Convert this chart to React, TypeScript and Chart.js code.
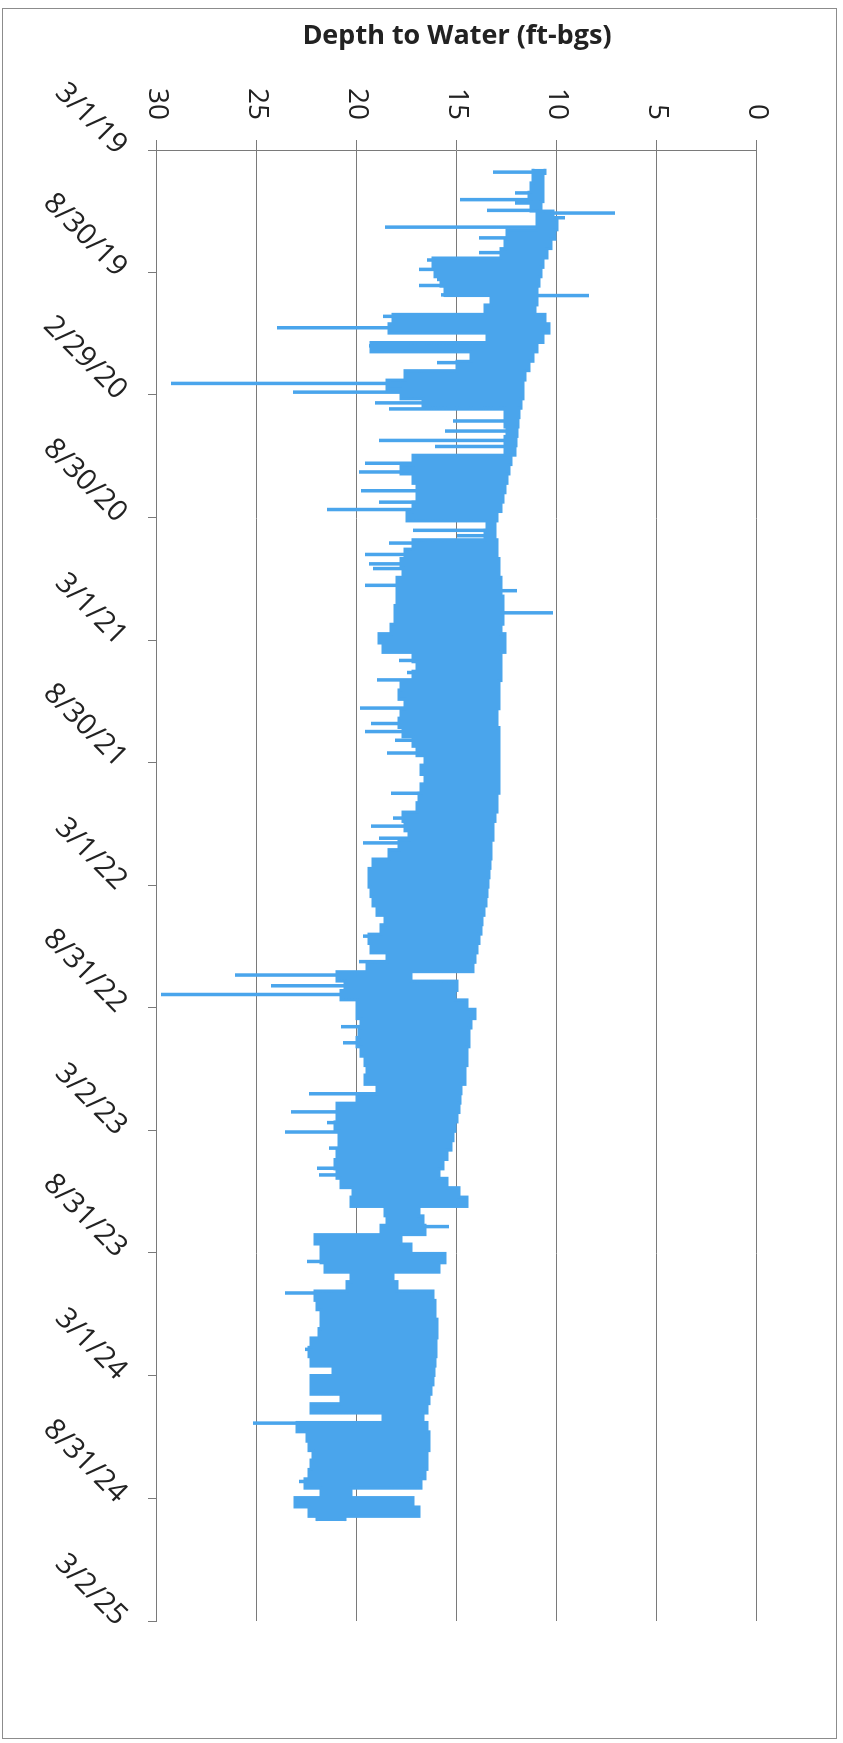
import React, { useEffect, useRef } from 'react';
import { Chart, registerables } from 'chart.js';

Chart.register(...registerables);

// ---------- data ----------
const dateTickLabels = [
  '3/1/19', '8/30/19', '2/29/20', '8/30/20', '3/1/21', '8/30/21', '3/1/22',
  '8/31/22', '3/2/23', '8/31/23', '3/1/24', '8/31/24', '3/2/25',
];

const depthMin = 0;
const depthMax = 30;
const depthMajorStep = 5;
const depthMinorStep = 1;

// dense record summarised as a band: one reading every two weeks
const sampleStart = '2019-03-29';
const sampleStepDays = 14;

// shallow edge of the band (ft-bgs)
const shallowEdge = [
  10.6, 10.7, 10.7, 10.7, 10.8, 10.2, 10.0, 10.1, 10.3, 10.5,
  10.7, 10.8, 10.9, 11.0, 11.0, 11.1, 10.6, 10.4, 10.7, 11.0,
  11.2, 11.4, 11.6, 11.7, 11.7, 11.8, 11.9, 11.95, 12.0, 12.05,
  12.1, 12.3, 12.4, 12.5, 12.6, 12.7, 12.8, 13.0, 13.1, 13.1,
  13.0, 13.0, 12.9, 12.9, 12.8, 12.8, 12.7, 12.7, 12.7, 12.8,
  12.6, 12.6, 12.8, 12.8, 12.8, 12.9, 12.9, 12.9, 13.0, 13.0,
  12.9, 12.9, 12.9, 12.9, 12.9, 12.9, 12.9, 13.0, 13.0, 13.1,
  13.2, 13.2, 13.3, 13.3, 13.35, 13.4, 13.45, 13.5, 13.55, 13.65,
  13.75, 13.8, 13.9, 14.0, 14.1, 14.2, 17.3, 15.0, 15.1, 14.5,
  14.1, 14.3, 14.4, 14.4, 14.5, 14.5, 14.6, 14.6, 14.8, 14.85,
  14.9, 15.0, 15.1, 15.2, 15.3, 15.5, 15.7, 15.9, 15.5, 14.9,
  14.5, 16.9, 16.7, 16.6, 17.8, 17.3, 15.6, 15.9, 18.2, 18.0,
  16.2, 16.1, 16.1, 16.0, 16.0, 16.05, 16.05, 16.1, 16.15, 16.2,
  16.3, 16.4, 16.5, 16.7, 16.5, 16.4, 16.4, 16.5, 16.5, 16.6,
  16.8, 20.3, 17.2, 16.9, 20.6,
];

// deep edge of the solid band (ft-bgs)
const deepEdge = [
  11.2, 11.2, 11.3, 11.4, 11.3, 11.0, 11.0, 12.5, 12.6, 12.8,
  16.2, 16.1, 15.8, 15.6, 13.3, 13.6, 18.2, 18.4, 13.5, 19.3,
  14.3, 15.0, 17.6, 18.5, 17.8, 16.7, 12.6, 12.6, 12.5, 12.6,
  12.6, 17.2, 17.8, 17.2, 17.0, 17.0, 17.2, 17.5, 13.5, 13.6,
  17.2, 17.6, 17.8, 17.7, 18.0, 18.0, 18.0, 18.1, 18.1, 18.3,
  18.9, 18.7, 17.2, 17.0, 17.2, 17.8, 17.9, 17.6, 17.8, 17.9,
  17.7, 17.2, 17.0, 16.6, 16.8, 16.6, 16.8, 16.9, 17.0, 17.7,
  17.6, 17.4, 17.9, 18.4, 19.2, 19.4, 19.4, 19.3, 19.2, 19.0,
  18.6, 18.8, 19.4, 19.3, 18.5, 19.5, 21.0, 20.6, 20.8, 20.0,
  20.0, 19.8, 19.9, 20.0, 19.8, 19.6, 19.5, 19.6, 19.0, 20.0,
  21.0, 21.0, 21.1, 20.9, 20.9, 21.0, 21.1, 21.0, 20.8, 20.2,
  20.3, 18.6, 18.5, 18.8, 22.1, 21.8, 21.8, 21.6, 20.3, 20.5,
  22.1, 22.0, 21.8, 21.8, 21.9, 22.3, 22.4, 22.3, 21.2, 22.3,
  22.3, 20.8, 22.3, 18.7, 23.0, 22.5, 22.4, 22.2, 22.3, 22.4,
  22.6, 21.8, 23.1, 22.4, 22.0,
];

// individual excursions (single readings)
const spikeDates = [
  '2019-04-03', '2019-05-04', '2019-05-14', '2019-05-19', '2019-05-30', '2019-06-03',
  '2019-06-10', '2019-06-24', '2019-07-10', '2019-08-01', '2019-08-12', '2019-08-26',
  '2019-09-10', '2019-09-19', '2019-10-03', '2019-10-04', '2019-11-04', '2019-11-21',
  '2019-12-18', '2020-01-12', '2020-02-12', '2020-02-25', '2020-03-12', '2020-03-21',
  '2020-04-08', '2020-04-23', '2020-05-07', '2020-05-16', '2020-06-10', '2020-06-23',
  '2020-07-21', '2020-08-07', '2020-08-18', '2020-09-18', '2020-09-26', '2020-10-07',
  '2020-10-24', '2020-11-07', '2020-11-14', '2020-12-09', '2020-12-17', '2021-01-19',
  '2021-03-31', '2021-04-18', '2021-04-29', '2021-06-10', '2021-07-03', '2021-07-15',
  '2021-07-28', '2021-08-16', '2021-10-15', '2021-11-21', '2021-12-03', '2021-12-21',
  '2021-12-28', '2022-05-16', '2022-06-23', '2022-07-13', '2022-07-29', '2022-08-11',
  '2022-09-28', '2022-10-22', '2023-01-06', '2023-02-02', '2023-02-18', '2023-03-04',
  '2023-03-28', '2023-04-27', '2023-05-07', '2023-07-23', '2023-09-13', '2023-10-30',
  '2024-01-22', '2024-05-11', '2024-08-06',
];
const spikeDepths = [
  13.2, 12.1, 14.85, 12.1, 13.5, 7.1,
  9.6, 18.6, 13.9, 13.9, 16.5, 16.9,
  16.0, 16.9, 15.8, 8.4, 18.7, 24.0,
  19.4, 16.0, 29.3, 23.2, 19.1, 18.4,
  15.2, 15.6, 18.9, 16.1, 19.6, 19.9,
  19.8, 18.9, 21.5, 17.2, 15.0, 18.4,
  19.6, 19.4, 19.2, 19.6, 12.0, 10.2,
  17.9, 17.5, 19.0, 19.85, 19.3, 19.6,
  18.1, 18.5, 18.3, 18.2, 19.3, 18.9,
  19.7, 19.7, 19.9, 26.1, 24.3, 29.8,
  20.8, 20.7, 22.4, 23.3, 21.5, 23.6,
  21.4, 22.0, 21.9, 15.4, 22.5, 23.6,
  22.6, 25.2, 22.9,
];

// ---------- helpers ----------
const DAY_MS = 86400000;
const ORIGIN = Date.UTC(2019, 2, 1);
const isoToDay = (s: string) => {
  const [y, m, d] = s.split('-').map(Number);
  return (Date.UTC(y, m - 1, d) - ORIGIN) / DAY_MS;
};
const mdyToDay = (s: string) => {
  const [m, d, y] = s.split('/').map(Number);
  return (Date.UTC(2000 + y, m - 1, d) - ORIGIN) / DAY_MS;
};

const tickDays = dateTickLabels.map(mdyToDay);
const startDay = isoToDay(sampleStart);
const sampleX = (i: number) => startDay + i * sampleStepDays;

const shallowPts = shallowEdge.map((v, i) => ({ x: sampleX(i), y: v }));
const deepPts = deepEdge.map((v, i) => ({ x: sampleX(i), y: v }));
const spikePts: { x: number; y: number | null }[] = [];
spikeDates.forEach((d, k) => {
  const x = isoToDay(d);
  const idx = Math.max(0, Math.min(shallowEdge.length - 1, Math.round((x - startDay) / sampleStepDays)));
  spikePts.push({ x, y: shallowEdge[idx] }, { x, y: spikeDepths[k] }, { x, y: null });
});

const BLUE = '#4AA5EC';
const GRID = '#7a7a7a';
const TEXT = '#222222';
const FONT = "'Open Sans', 'DejaVu Sans', sans-serif";

export default function App() {
  const ref = useRef<HTMLCanvasElement>(null);

  useEffect(() => {
    if (!ref.current) return;
    const chart = new Chart(ref.current, {
      type: 'line',
      data: {
        datasets: [
          {
            data: shallowPts,
            borderColor: BLUE,
            borderWidth: 3,
            pointRadius: 0,
            stepped: 'middle',
            fill: false,
          },
          {
            data: deepPts,
            borderColor: BLUE,
            backgroundColor: BLUE,
            borderWidth: 3,
            pointRadius: 0,
            stepped: 'middle',
            fill: '-1',
          },
          {
            data: spikePts,
            borderColor: BLUE,
            borderWidth: 3.5,
            pointRadius: 0,
            fill: false,
            spanGaps: false,
          },
        ],
      } as any,
      options: {
        responsive: false,
        animation: false,
        devicePixelRatio: 1,
        layout: { padding: { left: 0, top: 86, right: 122, bottom: 0 } },
        plugins: { legend: { display: false }, tooltip: { enabled: false } },
        scales: {
          x: {
            type: 'linear',
            position: 'bottom',
            min: tickDays[0],
            max: tickDays[tickDays.length - 1],
            afterBuildTicks: (s: any) => {
              s.ticks = tickDays.map((v) => ({ value: v }));
            },
            afterFit: (s: any) => {
              s.height = 157;
            },
            grid: { drawOnChartArea: false, drawTicks: true, tickLength: 9, tickColor: GRID, tickWidth: 1 },
            border: { display: true, color: GRID, width: 1 },
            ticks: {
              autoSkip: false,
              minRotation: 45,
              maxRotation: 45,
              padding: 14,
              color: TEXT,
              font: { family: FONT, size: 29 },
              callback: (v: any) => {
                const i = tickDays.indexOf(Number(v));
                return i >= 0 ? dateTickLabels[i] : '';
              },
            },
          },
          y: {
            type: 'linear',
            position: 'left',
            weight: 0,
            reverse: true,
            min: depthMin,
            max: depthMax,
            afterFit: (s: any) => {
              s.width = 150;
            },
            grid: { color: GRID, lineWidth: 1, drawTicks: true, tickLength: 10, tickColor: GRID },
            border: { display: true, color: GRID, width: 1 },
            ticks: {
              stepSize: depthMajorStep,
              padding: 20,
              color: TEXT,
              font: { family: FONT, size: 28 },
            },
            title: {
              display: true,
              text: 'Depth to Water (ft-bgs)',
              color: TEXT,
              font: { family: FONT, size: 27, weight: 'bold' },
              padding: { top: 20, bottom: 0 },
            },
          },
          yMinor: {
            type: 'linear',
            position: 'left',
            weight: 1,
            reverse: true,
            min: depthMin,
            max: depthMax,
            afterFit: (s: any) => {
              s.width = 0;
            },
            grid: { drawOnChartArea: false, drawTicks: true, tickLength: 6, tickColor: GRID },
            border: { display: false },
            ticks: { stepSize: depthMinorStep, callback: () => '' },
          },
        },
      } as any,
    });
    return () => chart.destroy();
  }, []);

  return (
    <div
      style={{
        position: 'absolute',
        left: 0,
        top: 0,
        width: 843,
        height: 1743,
        overflow: 'hidden',
        background: '#ffffff',
      }}
    >
      <div
        style={{
          position: 'absolute',
          left: 2,
          top: 8,
          width: 835,
          height: 1731,
          border: '1px solid #8c8c8c',
          boxSizing: 'border-box',
        }}
      />
      <div
        style={{
          position: 'absolute',
          left: -450,
          top: 450,
          width: 1743,
          height: 843,
          transform: 'rotate(90deg)',
          transformOrigin: '50% 50%',
        }}
      >
        <canvas ref={ref} width={1743} height={843} style={{ display: 'block', width: 1743, height: 843 }} />
      </div>
    </div>
  );
}
